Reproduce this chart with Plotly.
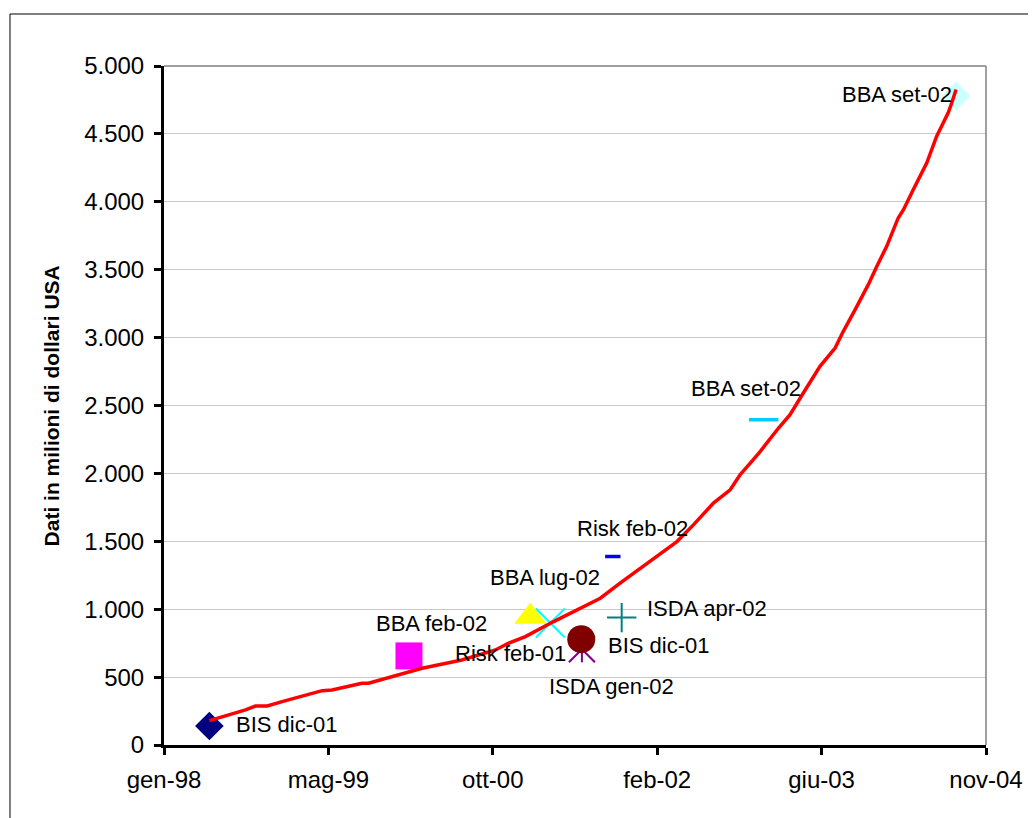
import plotly.graph_objects as go

# ---------------- data ----------------
# red growth curve (date, value in millions USD)
line_dates = [
    "1998-05-23", "1998-09-10", "1998-10-10", "1998-11-15", "1998-12-30",
    "1999-02-09", "1999-05-01", "1999-05-31", "1999-08-30", "1999-09-19",
    "1999-12-10", "2000-02-29", "2000-06-29", "2000-10-09", "2000-11-17",
    "2001-01-08", "2001-04-04", "2001-07-14", "2001-08-24", "2001-10-23",
    "2001-12-23", "2002-02-22", "2002-04-14", "2002-06-03", "2002-08-03",
    "2002-09-23", "2002-10-23", "2002-11-23", "2002-12-23", "2003-02-17",
    "2003-03-24", "2003-04-24", "2003-06-23", "2003-08-08", "2003-09-02",
    "2003-10-08", "2003-11-17", "2003-12-13", "2004-01-12", "2004-02-16",
    "2004-03-03", "2004-04-02", "2004-05-13", "2004-06-12", "2004-07-17",
    "2004-07-28", "2004-08-10",
]
line_values = [
    179, 258, 287, 287, 319,
    344, 400, 405, 455, 455,
    508, 565, 626, 700, 749,
    798, 909, 1032, 1081, 1192,
    1302, 1413, 1498, 1621, 1781,
    1879, 1990, 2076, 2161, 2334,
    2432, 2555, 2788, 2923, 3046,
    3206, 3390, 3525, 3672, 3881,
    3942, 4090, 4287, 4483, 4655,
    4729, 4827,
]

# survey estimates
point_labels = [
    "BIS dic-01", "BBA feb-02", "BBA lug-02", "Risk feb-01", "ISDA gen-02",
    "BIS dic-01", "ISDA apr-02", "Risk feb-02", "BBA set-02", "BBA set-02",
]
point_dates = [
    "1998-05-23", "2000-01-20", "2001-01-23", "2001-03-25", "2001-06-29",
    "2001-06-27", "2001-10-28", "2001-10-01", "2003-01-03", "2004-08-10",
]
point_values = [140, 656, 945, 899, 705, 779, 938, 1388, 2395, 4780]

# axis
tick_dates = ["1998-01-05", "1999-05-20", "2000-10-01", "2002-02-13", "2003-06-28", "2004-11-09"]
tick_labels = ["gen-98", "mag-99", "ott-00", "feb-02", "giu-03", "nov-04"]
y_max = 5000
y_step = 500
y_title = "Dati in milioni di dollari USA"

# ---------------- styles ----------------
FONT = "Liberation Sans, Arial, sans-serif"
# (symbol, size, color, line width) per point; star is drawn as x + vertical bar
styles = [
    [("diamond", 22, "#000080", 0)],
    [("square", 27, "#FF00FF", 0)],
    [("triangle-up", 28, "#FFFF00", 0)],
    [("x-thin", 29, "#00FFFF", 2)],
    [("x-thin", 26, "#800080", 2), ("line-ns", 18.6, "#800080", 2)],
    [("circle", 28, "#800000", 0)],
    [("cross-thin", 21, "#008080", 2)],
    [("line-ew", 11, "#0000FF", 3.5)],
    [("line-ew", 21, "#00CCFF", 3.5)],
    [("diamond", 22, "#CCFFFF", 0)],
]
# label placement: (xanchor, xshift, yshift)
label_pos = [
    ("left", 25, 1),
    ("center", 23, 32),
    ("center", 15, 39),
    ("right", 18, -31),
    ("center", 30, -37),
    ("left", 25, -6),
    ("left", 23, 9),
    ("center", 20, 28),
    ("center", -18, 31),
    ("right", -2, 1),
]

fig = go.Figure()

for i, st in enumerate(styles):
    for sym, size, color, lw in st:
        marker = dict(symbol=sym, size=size, color=color)
        if lw:
            marker["line"] = dict(color=color, width=lw)
        else:
            marker["line"] = dict(width=0)
        fig.add_trace(go.Scatter(
            x=[point_dates[i]], y=[point_values[i]], mode="markers",
            marker=marker, showlegend=False, hoverinfo="skip"))

fig.add_trace(go.Scatter(
    x=line_dates, y=line_values, mode="lines",
    line=dict(color="#FF0000", width=3.5), showlegend=False))

for i, lab in enumerate(point_labels):
    xa, xs, ys = label_pos[i]
    fig.add_annotation(
        x=point_dates[i], y=point_values[i], xref="x", yref="y",
        text=lab, showarrow=False, xanchor=xa, yanchor="middle",
        xshift=xs, yshift=ys, font=dict(family=FONT, size=22, color="black"))

fig.add_annotation(
    x=-0.1363, y=0.5, xref="paper", yref="paper", text="<b>" + y_title + "</b>",
    textangle=-90, showarrow=False, xanchor="center", yanchor="middle",
    font=dict(family=FONT, size=21, color="black"))

# plot-area border (top/right) and outer chart frame
fig.add_shape(type="line", xref="paper", yref="paper", x0=0, x1=1, y0=1, y1=1,
              line=dict(color="#808080", width=1.5))
fig.add_shape(type="line", xref="paper", yref="paper", x0=1, x1=1, y0=0, y1=1,
              line=dict(color="#808080", width=1.5))
fig.add_shape(type="rect", xref="paper", yref="paper",
              x0=-0.18735, x1=1.0718, y0=-0.1252, y1=1.07658,
              line=dict(color="black", width=1))

fig.update_layout(
    width=1028, height=810, autosize=False,
    margin=dict(l=156, r=50, t=58, b=73, pad=0),
    paper_bgcolor="white", plot_bgcolor="white",
    separators=",.",
    font=dict(family=FONT, color="black"),
    showlegend=False,
)
fig.update_xaxes(
    type="date", range=[tick_dates[0], tick_dates[-1]],
    tickmode="array", tickvals=tick_dates, ticktext=tick_labels,
    showline=True, linecolor="black", linewidth=3,
    ticks="outside", ticklen=7, tickwidth=3, tickcolor="black",
    showgrid=False, zeroline=False,
    tickfont=dict(family=FONT, size=24, color="black"),
    ticklabelstandoff=4,
)
fig.update_yaxes(
    range=[0, y_max], dtick=y_step, tick0=0, tickformat=",d",
    showline=True, linecolor="black", linewidth=3,
    ticks="outside", ticklen=7, tickwidth=3, tickcolor="black",
    showgrid=True, gridcolor="#C8C8C8", gridwidth=1, zeroline=False,
    tickfont=dict(family=FONT, size=24, color="black"),
    ticklabelstandoff=5,
)

fig.write_html("out.html")
